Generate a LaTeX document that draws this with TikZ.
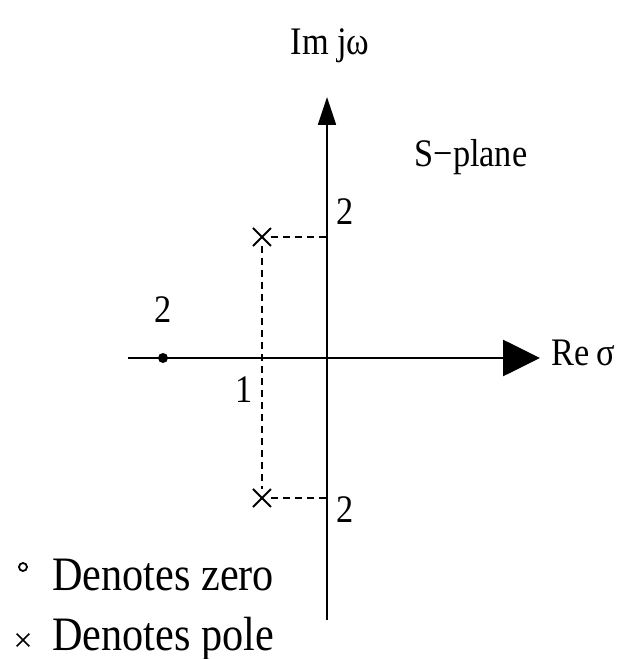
\documentclass[tikz,border=0pt]{standalone}
\usepackage{fontspec}
\setmainfont[FakeStretch=0.88]{Liberation Serif}
\usetikzlibrary{arrows.meta,positioning,shapes.misc}

\begin{document}
\begin{tikzpicture}[x=0.5pt, y=0.5pt,
    lbl/.style={inner sep=0pt, anchor=base, font=\fontsize{19.5pt}{22pt}\selectfont},
    legend/.style={inner sep=0pt, anchor=base west, font=\fontsize{24pt}{28pt}\selectfont},
    pole/.style={cross out, draw, line width=1pt, minimum size=8pt, inner sep=0pt},
    zero/.style={circle, fill, minimum size=5pt, inner sep=0pt},
    guide/.style={dash pattern=on 3.5pt off 2.5pt, line width=0.6pt}
]
\useasboundingbox (-327,-301) rectangle (298,358);
% axes
\coordinate (reL) at (-199,0);
\coordinate (reR) at (213,0);
\coordinate (imB) at (0,-262);
\coordinate (imT) at (0,261);
\draw[line width=1.4pt, -{Triangle[length=18.5pt, width=18pt]}] (reL) -- (reR);
\draw[line width=0.9pt, -{Triangle[length=14pt, width=9pt]}] (imB) -- (imT);
\node[lbl] (imlab) at (3,303) {Im jω};
\node[lbl] (relab) at (224,-7) [anchor=base west] {Re\,σ};
\node[lbl] (splane) at (144,191) {S−plane};
% poles and zero
\node[pole] (p1) at (-65,121) {};
\node[pole] (p2) at (-65,-140) {};
\node[zero] (z1) at (-164,0) {};
\coordinate (w1) at (0,121);
\coordinate (w2) at (0,-140);
\draw[guide] (p1) -- (w1);
\draw[guide] (p2) -- (w2);
\draw[guide] (p1) -- (p2);
\node[lbl] (w1lab) at (18,133) {2};
\node[lbl] (w2lab) at (18,-164) {2};
\node[lbl] (z1lab) at (-164,36) {2};
\node[lbl] (s1lab) at (-83,-44) {1};
% legend
\node[circle, draw, line width=0.9pt, minimum size=4pt, inner sep=0pt] (zkey) at (-304,-209) {};
\node[legend] (ztxt) at (-275,-232) {Denotes zero};
\node[cross out, draw, line width=0.8pt, minimum size=5.5pt, inner sep=0pt] (pkey) at (-304,-282) {};
\node[legend] (ptxt) at (-275,-292) {Denotes pole};
\end{tikzpicture}
\end{document}
